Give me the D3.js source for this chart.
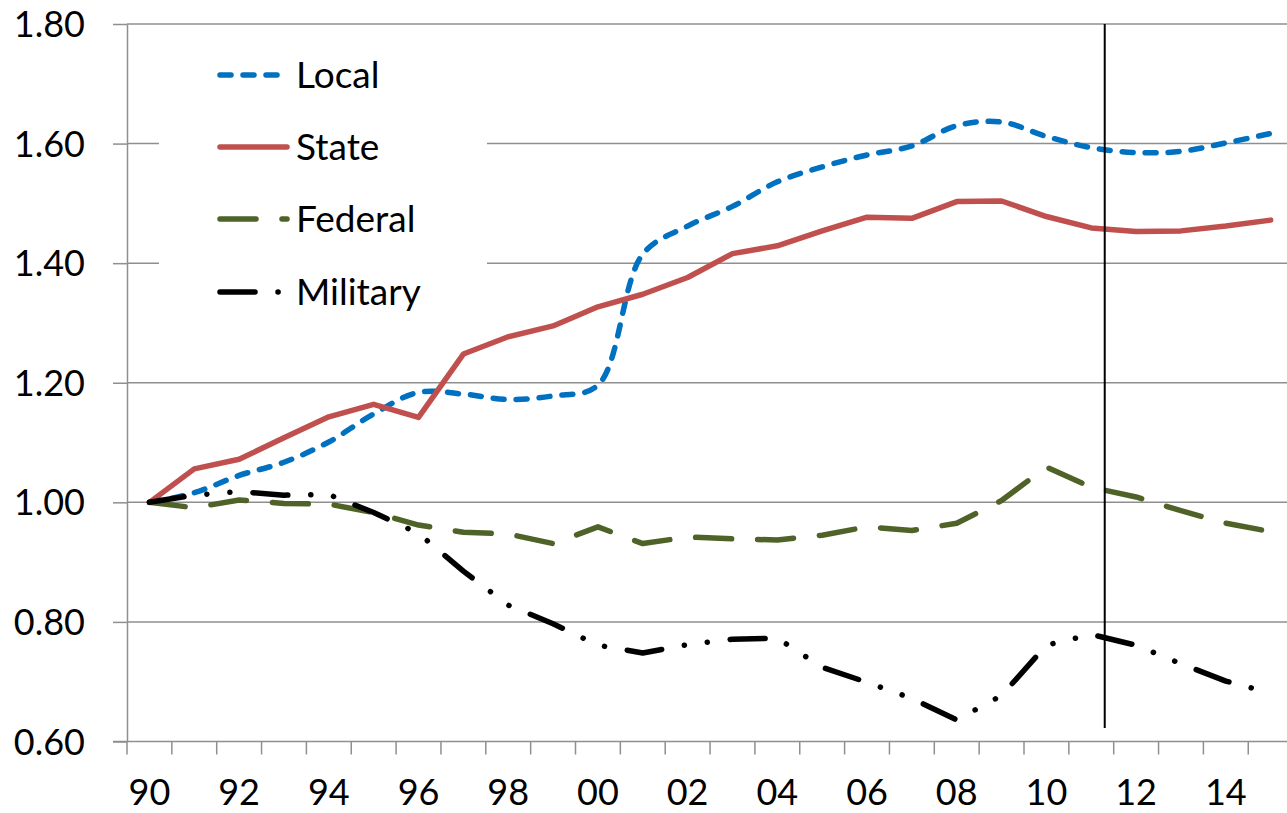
<!DOCTYPE html>
<html>
<head>
<meta charset="utf-8">
<script src="https://cdn.jsdelivr.net/npm/d3@7"></script>
<style>
  html, body { margin: 0; padding: 0; background: #ffffff; }
  svg { display: block; }
  text { font-family: Lato, "Noto Sans", sans-serif; fill: #000; }
</style>
</head>
<body>
<svg id="chart" width="1287" height="813"></svg>
<script>
// Years on the category axis (1990–2015) and their two-digit labels
const years = [1990, 1991, 1992, 1993, 1994, 1995, 1996, 1997, 1998, 1999, 2000, 2001, 2002,
               2003, 2004, 2005, 2006, 2007, 2008, 2009, 2010, 2011, 2012, 2013, 2014, 2015];
const yearLabels = ["90", "", "92", "", "94", "", "96", "", "98", "", "00", "", "02",
                    "", "04", "", "06", "", "08", "", "10", "", "12", "", "14", ""];

// Index values (1990 = 1.00)
const local    = [1.000, 1.016, 1.045, 1.067, 1.101, 1.148, 1.184, 1.181, 1.172, 1.178, 1.196, 1.415, 1.462,
                  1.495, 1.536, 1.561, 1.581, 1.596, 1.630, 1.636, 1.612, 1.593, 1.585, 1.587, 1.601, 1.617];
const state    = [1.000, 1.056, 1.072, 1.108, 1.143, 1.164, 1.142, 1.248, 1.277, 1.295, 1.327, 1.348, 1.376,
                  1.416, 1.429, 1.454, 1.477, 1.475, 1.503, 1.504, 1.478, 1.459, 1.453, 1.454, 1.462, 1.472];
const federal  = [1.000, 0.991, 1.004, 0.998, 0.997, 0.983, 0.962, 0.950, 0.947, 0.931, 0.959, 0.931, 0.942,
                  0.939, 0.937, 0.945, 0.959, 0.953, 0.965, 1.003, 1.059, 1.025, 1.009, 0.986, 0.965, 0.951];
const military = [1.000, 1.012, 1.018, 1.012, 1.013, 0.983, 0.948, 0.885, 0.828, 0.797, 0.761, 0.748, 0.762,
                  0.771, 0.773, 0.724, 0.699, 0.672, 0.636, 0.677, 0.761, 0.779, 0.761, 0.730, 0.701, 0.681];

const yTicks = [0.60, 0.80, 1.00, 1.20, 1.40, 1.60, 1.80];
const markerYear = 2011.3;   // vertical reference line position

const seriesNames = ["Local", "State", "Federal", "Military"];

// Series styling
const styles = {
  Local:    { color: "#0070C0", dash: "11,12", curve: d3.curveCatmullRom.alpha(0.5) },
  State:    { color: "#C0504D", dash: null,    curve: d3.curveLinear },
  Federal:  { color: "#4F6228", dash: "36,26", curve: d3.curveLinear },
  Military: { color: "#000000", dash: "35,23,0.1,23,0.1,23", curve: d3.curveLinear }
};
const seriesData = { Local: local, State: state, Federal: federal, Military: military };

const svg = d3.select("#chart");
const plotLeft = 127, bandW = 44.85;
const plotTop = 24, plotBottom = 741.5;

const x = d3.scaleBand().domain(years).range([plotLeft, plotLeft + bandW * years.length]).padding(0);
const y = d3.scaleLinear().domain([0.6, 1.8]).range([plotBottom, plotTop]);
const xc = d => x(d) + x.bandwidth() / 2;
const xYear = d3.scaleLinear().domain([years[0], years[years.length - 1]])
                .range([xc(years[0]), xc(years[years.length - 1])]);

const gridColor = "#8f8f8f";

// Horizontal gridlines
svg.append("g").selectAll("line").data(yTicks.filter(v => v > 0.6)).join("line")
  .attr("x1", plotLeft).attr("x2", 1287)
  .attr("y1", d => y(d)).attr("y2", d => y(d))
  .attr("stroke", gridColor).attr("stroke-width", 1.5);

// Y axis
const yAxis = d3.axisLeft(y).tickValues(yTicks).tickFormat(d3.format(".2f"))
  .tickSizeInner(14).tickSizeOuter(0).tickPadding(28);
const gy = svg.append("g").attr("transform", `translate(${plotLeft},0)`).call(yAxis);
gy.select(".domain").attr("stroke", gridColor).attr("stroke-width", 1.5);
gy.selectAll(".tick line").attr("stroke", gridColor).attr("stroke-width", 1.5);
gy.selectAll(".tick text").attr("font-size", 36).attr("font-family", "Lato")
  .attr("fill", "#000").attr("dy", "0.35em");

// X axis: tick marks at category boundaries, labels centred on categories
const gx = svg.append("g");
gx.append("line").attr("x1", 113).attr("x2", 1287)
  .attr("y1", plotBottom).attr("y2", plotBottom)
  .attr("stroke", gridColor).attr("stroke-width", 1.5);
gx.selectAll("line.tk").data(years).join("line").attr("class", "tk")
  .attr("x1", d => x(d)).attr("x2", d => x(d))
  .attr("y1", plotBottom).attr("y2", plotBottom + 13)
  .attr("stroke", gridColor).attr("stroke-width", 1.5);
gx.selectAll("text").data(years.filter((d, i) => yearLabels[i] !== "")).join("text")
  .attr("x", d => xc(d)).attr("y", 805)
  .attr("text-anchor", "middle").attr("font-size", 36)
  .text(d => yearLabels[years.indexOf(d)]);

// Series lines
const plot = svg.append("g");
seriesNames.forEach(name => {
  const st = styles[name];
  const line = d3.line().x((d, i) => xc(years[i])).y(d => y(d)).curve(st.curve);
  plot.append("path").datum(seriesData[name])
    .attr("d", line)
    .attr("fill", "none")
    .attr("stroke", st.color)
    .attr("stroke-width", 5.5)
    .attr("stroke-linecap", "round")
    .attr("stroke-linejoin", "round")
    .attr("stroke-dasharray", st.dash);
});

// Vertical reference line
svg.append("line")
  .attr("x1", xYear(markerYear)).attr("x2", xYear(markerYear))
  .attr("y1", plotTop).attr("y2", 728)
  .attr("stroke", "#000").attr("stroke-width", 2);

// Legend
const legend = svg.append("g");
legend.append("rect").attr("x", 159).attr("y", 36).attr("width", 328).attr("height", 290)
  .attr("fill", "#fff");
const legendY = [75, 147, 219, 292];
seriesNames.forEach((name, i) => {
  const st = styles[name];
  legend.append("line")
    .attr("x1", 220).attr("x2", 287)
    .attr("y1", legendY[i]).attr("y2", legendY[i])
    .attr("stroke", st.color).attr("stroke-width", 5.5)
    .attr("stroke-linecap", "round")
    .attr("stroke-dasharray", st.dash);
  legend.append("text")
    .attr("x", 296).attr("y", legendY[i] + 13)
    .attr("font-size", 37)
    .text(name);
});
</script>
</body>
</html>
